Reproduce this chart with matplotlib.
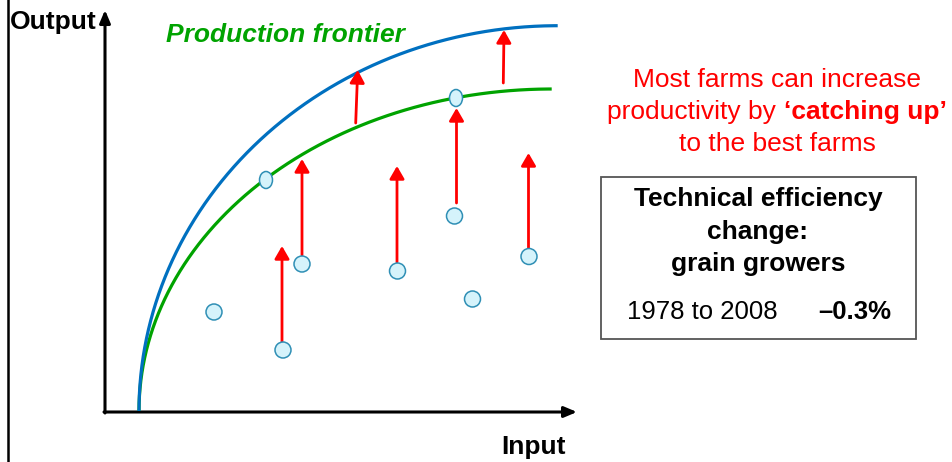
import matplotlib
matplotlib.use("Agg")
import matplotlib.pyplot as plt
import numpy as np
from matplotlib.patches import Ellipse, Rectangle

plt.rcParams['font.family'] = ['Liberation Sans', 'DejaVu Sans']

# farms (input, output), units measured from the axis corner
farm_x = [109, 178, 197, 292.5, 349.5, 367.5, 424]
farm_y = [100, 62, 148, 141, 196, 113, 155.5]
# farms sitting on the production frontier
best_x = [161, 351]
best_y = [232, 314]

# catching-up arrows: (x, start y, end y)
catch_x = [177, 197, 292, 351.5, 423.5]
catch_y0 = [70, 157, 150, 209, 164]
catch_y1 = [166, 253, 246, 304, 259]

# frontier shift arrows: (x0, y0) -> (x1, y1)
shift_x0 = [250.7, 398.3]
shift_y0 = [289, 329]
shift_x1 = [252.7, 399]
shift_y1 = [342, 382]

# frontier curves: quarter ellipses (start x, end x, end y)
old_front = (34, 446.7, 323)
new_front = (34, 452.7, 386.3)

RED = '#ff0000'
GREEN = '#00a300'
BLUE = '#0070c0'
FILL = '#d5f3fb'
EDGE = '#2f8fb5'
FS = 19

fig = plt.figure(figsize=(9.52, 4.62), dpi=100)
ax = fig.add_axes([0, 0, 1, 1])
ax.set_xlim(-105, 847)
ax.set_ylim(-50, 412)
ax.axis('off')

# slide border line on the left
ax.plot([-97, -97], [-50, 412], color='black', lw=1.8)

# axes with arrows
axis_style = dict(arrowstyle='-|>,head_length=0.38,head_width=0.16',
                  color='black', lw=2.2, shrinkA=0, shrinkB=0, mutation_scale=20)
ax.annotate('', xy=(0, 402), xytext=(0, -1), arrowprops=axis_style)
ax.annotate('', xy=(472, 0), xytext=(-1, 0), arrowprops=axis_style)

t = np.linspace(0, np.pi / 2, 200)
for (x0, xe, ye), col in [(old_front, GREEN), (new_front, BLUE)]:
    a = xe - x0
    ax.plot(xe - a * np.cos(t), 1 + (ye - 1) * np.sin(t), color=col, lw=2.3,
            solid_capstyle='butt', zorder=3)

arrow_style = dict(arrowstyle='-|>,head_length=0.38,head_width=0.22',
                   color=RED, lw=2.0, shrinkA=0, shrinkB=0, mutation_scale=20)
for x, y0, y1 in zip(catch_x, catch_y0, catch_y1):
    ax.annotate('', xy=(x, y1), xytext=(x, y0), arrowprops=arrow_style, zorder=4)
for x0, y0, x1, y1 in zip(shift_x0, shift_y0, shift_x1, shift_y1):
    ax.annotate('', xy=(x1, y1), xytext=(x0, y0), arrowprops=arrow_style, zorder=4)

for x, y in zip(farm_x, farm_y):
    ax.add_patch(Ellipse((x, y), 16, 16, facecolor=FILL, edgecolor=EDGE, lw=1.1, zorder=5))
for x, y in zip(best_x, best_y):
    ax.add_patch(Ellipse((x, y), 13, 17, facecolor=FILL, edgecolor=EDGE, lw=1.1, zorder=5))

# labels
ax.text(-95, 390, 'Output', fontsize=FS, fontweight='bold', ha='left', va='center')
ax.text(428.5, -35, 'Input', fontsize=FS, fontweight='bold', ha='center', va='center')
ax.text(61, 377, 'Production frontier', fontsize=FS, fontweight='bold',
        fontstyle='italic', color=GREEN, ha='left', va='center')

# red note
ax.text(672, 332, 'Most farms can increase', fontsize=FS, color=RED,
        ha='center', va='center')
ax.text(672, 268, 'to the best farms', fontsize=FS, color=RED,
        ha='center', va='center')
p1 = ax.text(0, 293, 'productivity by ', fontsize=FS, color=RED,
             ha='left', va='baseline')
p2 = ax.annotate('\u2018catching up\u2019', xy=(1, 0), xycoords=p1, fontsize=FS,
                 color=RED, fontweight='bold', ha='left', va='bottom')
fig.canvas.draw()
r = fig.canvas.get_renderer()
w1 = p1.get_window_extent(r).width
w2 = p2.get_window_extent(r).width
# center both pieces around x = 672 (1 unit = 1 px)
p1.set_x(672 - (w1 + w2) / 2)

# efficiency box
ax.add_patch(Rectangle((496, 73), 314.7, 162.3, facecolor='white',
                       edgecolor='#555555', lw=1.3, zorder=2))
for txt, y in [('Technical efficiency', 213), ('change:', 180), ('grain growers', 148)]:
    ax.text(653, y, txt, fontsize=FS, fontweight='bold', ha='center', va='center')
ax.text(522, 100, '1978 to 2008', fontsize=FS - 0.5, ha='left', va='center')
ax.text(786.7, 100, '\u20130.3%', fontsize=FS - 0.5, fontweight='bold', ha='right', va='center')

fig.savefig('out.png', dpi=100)
